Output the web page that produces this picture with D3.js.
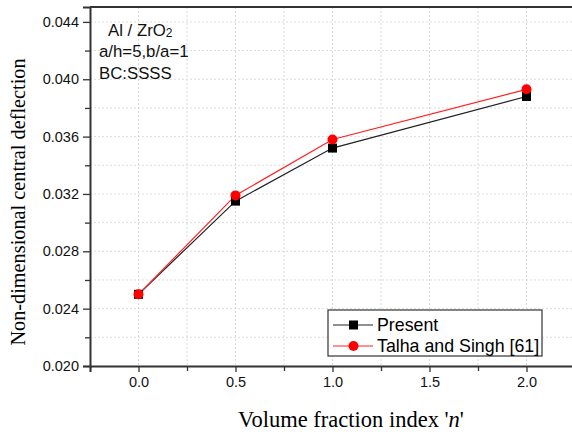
<!DOCTYPE html>
<html>
<head>
<meta charset="utf-8">
<script src="https://cdn.jsdelivr.net/npm/d3@7/dist/d3.min.js"></script>
<style>
  body { margin: 0; background: #fff; }
  svg { display: block; }
</style>
</head>
<body>
<div id="chart"></div>
<script>
// data
var nValues = [0.0, 0.5, 1.0, 2.0];
var present = [0.0250, 0.0315, 0.0352, 0.0388];
var talha = [0.0250, 0.0319, 0.0358, 0.0393];
var xTicks = [0.0, 0.5, 1.0, 1.5, 2.0];
var yTicks = [0.020, 0.024, 0.028, 0.032, 0.036, 0.040, 0.044];
var seriesNames = ["Present", "Talha and Singh [61]"];

var all_width = 572, all_height = 434;
var margin = {top: 7, right: -3, bottom: 68, left: 90},
    width = all_width - margin.left - margin.right,
    height = all_height - margin.top - margin.bottom;

var svg = d3.select("#chart")
  .append("svg")
    .attr("width", all_width)
    .attr("height", all_height)
  .append("g")
    .attr("transform", "translate(" + margin.left + "," + margin.top + ")");

var x = d3.scaleLinear().domain([-0.25, 2.25]).range([0, width]);
var y = d3.scaleLinear().domain([0.020, 0.04504]).range([height, 0]);

// grid (major + minor)
var xMinor = d3.range(0, 2.01, 0.25);
var yMinor = d3.range(0.020, 0.0445, 0.002);
svg.append("g").selectAll("line")
  .data(xMinor).enter().append("line")
    .attr("x1", function(d) { return x(d); })
    .attr("x2", function(d) { return x(d); })
    .attr("y1", 0).attr("y2", height)
    .attr("stroke", "#d8d8d8")
    .attr("stroke-dasharray", "2,2");
svg.append("g").selectAll("line")
  .data(yMinor.slice(1)).enter().append("line")
    .attr("x1", 0).attr("x2", width)
    .attr("y1", function(d) { return y(d); })
    .attr("y2", function(d) { return y(d); })
    .attr("stroke", "#dcdcdc")
    .attr("stroke-dasharray", "2,2");

// axes
var fontTick = "Arial, 'Liberation Sans', sans-serif";
svg.append("g")
  .attr("transform", "translate(0," + height + ")")
  .call(d3.axisBottom(x).tickValues(xTicks).tickFormat(d3.format(".1f")).tickSize(6).tickPadding(5));
svg.append("g")
  .attr("transform", "translate(0," + height + ")")
  .call(d3.axisBottom(x).tickValues([-0.25, 0.25, 0.75, 1.25, 1.75]).tickFormat("").tickSize(5))
  .select(".domain").remove();
svg.append("g")
  .call(d3.axisLeft(y).tickValues(yTicks).tickFormat(d3.format(".3f")).tickSize(7).tickPadding(4));
svg.append("g")
  .call(d3.axisLeft(y).tickValues([0.022, 0.026, 0.030, 0.034, 0.038, 0.042]).tickFormat("").tickSize(5))
  .select(".domain").remove();

svg.selectAll(".domain").attr("stroke", "#333").attr("stroke-width", 2);
svg.selectAll(".tick line").attr("stroke", "#333").attr("stroke-width", 1.3);
svg.selectAll(".tick text").attr("fill", "#111").style("font-family", fontTick).style("font-size", "14.5px");

// top frame
svg.append("line")
  .attr("x1", 0).attr("x2", width)
  .attr("y1", 0).attr("y2", 0)
  .attr("stroke", "#333").attr("stroke-width", 2);

// lines
var lineColors = ["#222", "#ff2020"];
var series = [present, talha];
var line = d3.line()
  .x(function(d, i) { return x(nValues[i]); })
  .y(function(d) { return y(d); });

series.forEach(function(s, k) {
  svg.append("path")
    .datum(s)
    .attr("fill", "none")
    .attr("stroke", lineColors[k])
    .attr("stroke-width", 1.2)
    .attr("d", line);
});

// markers: squares for Present, circles for Talha
svg.selectAll("sq")
  .data(present).enter().append("rect")
    .attr("x", function(d, i) { return x(nValues[i]) - 4.5; })
    .attr("y", function(d) { return y(d) - 4.5; })
    .attr("width", 9).attr("height", 9)
    .attr("fill", "#000");
svg.selectAll("circ")
  .data(talha).enter().append("circle")
    .attr("cx", function(d, i) { return x(nValues[i]); })
    .attr("cy", function(d) { return y(d); })
    .attr("r", 5)
    .attr("fill", "#ff0000");

// legend
var lg = svg.append("g").attr("transform", "translate(" + (328 - margin.left) + "," + (310 - margin.top) + ")");
lg.append("rect")
  .attr("width", 214).attr("height", 46)
  .attr("fill", "#fff").attr("stroke", "#333").attr("stroke-width", 1.2);
seriesNames.forEach(function(name, k) {
  var yy = 15 + k * 21;
  lg.append("line")
    .attr("x1", 5).attr("x2", 45).attr("y1", yy).attr("y2", yy)
    .attr("stroke", lineColors[k]).attr("stroke-width", 1.2);
  if (k === 0) {
    lg.append("rect").attr("x", 21).attr("y", yy - 4.5).attr("width", 9).attr("height", 9).attr("fill", "#000");
  } else {
    lg.append("circle").attr("cx", 25.5).attr("cy", yy).attr("r", 5).attr("fill", "#ff0000");
  }
  lg.append("text")
    .attr("x", 49).attr("y", yy + 6)
    .style("font-family", fontTick).style("font-size", "17.8px")
    .attr("fill", "#000")
    .text(name);
});

// annotation
var ann = svg.append("g").style("font-family", fontTick).style("font-size", "16.8px").attr("fill", "#111");
var t1 = ann.append("text").attr("x", 108 - margin.left).attr("y", 36 - margin.top);
t1.append("tspan").text("Al / ZrO");
t1.append("tspan").attr("font-size", "12px").attr("dy", 1).text("2");
ann.append("text").attr("x", 99 - margin.left).attr("y", 57 - margin.top).text("a/h=5,b/a=1");
ann.append("text").attr("x", 99 - margin.left).attr("y", 79 - margin.top).text("BC:SSSS");

// axis titles
var titleFont = "'Times New Roman', 'Liberation Serif', serif";
var xt = svg.append("text")
  .attr("x", 351 - margin.left).attr("y", 427 - margin.top)
  .attr("text-anchor", "middle")
  .style("font-family", titleFont).style("font-size", "22.5px").attr("fill", "#000");
xt.append("tspan").text("Volume fraction index '");
xt.append("tspan").style("font-style", "italic").text("n");
xt.append("tspan").text("'");

svg.append("text")
  .attr("transform", "rotate(-90)")
  .attr("x", -(202 - margin.top)).attr("y", 25 - margin.left)
  .attr("text-anchor", "middle")
  .style("font-family", titleFont).style("font-size", "20.3px").attr("fill", "#000")
  .text("Non-dimensional central deflection");
</script>
</body>
</html>
